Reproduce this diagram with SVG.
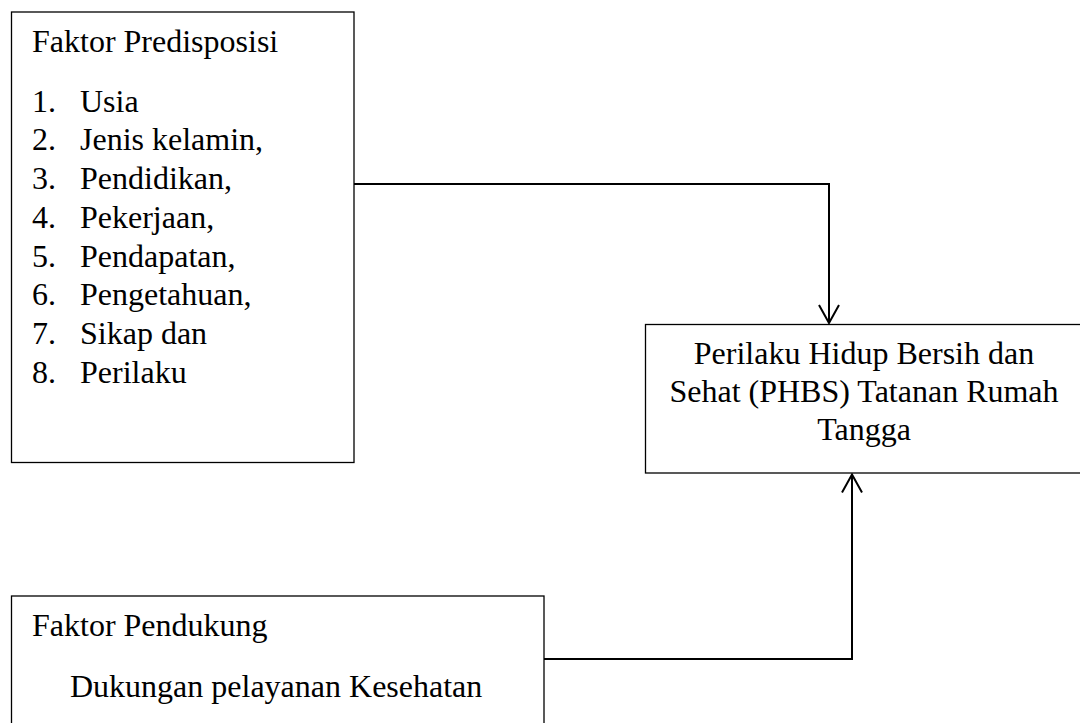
<svg xmlns="http://www.w3.org/2000/svg" width="1080" height="723" viewBox="0 0 1080 723">
<style>
.box{fill:#fff;stroke:#000;stroke-width:1.3}
.t{font-family:"Liberation Serif",Tinos,"Noto Serif","DejaVu Serif",serif;font-size:32px;fill:#000}
.c{text-anchor:middle}
.conn{fill:none;stroke:#000;stroke-width:2}
</style>
<defs>
<marker id="arr" markerUnits="userSpaceOnUse" markerWidth="24" markerHeight="24" viewBox="-22 -12 24 24" refX="0" refY="0" orient="auto">
<path d="M-18,-10 L0,0 L-18,10" fill="none" stroke="#000" stroke-width="2"/>
</marker>
</defs>
<rect width="1080" height="723" fill="#fff"/>
<g id="predisposisi">
<rect class="box" x="11.5" y="12" width="342.5" height="450.5"/>
<text class="t" x="32" y="51.5">Faktor Predisposisi</text>
<text class="t" x="32" y="111.5">1.</text><text class="t" x="80" y="111.5">Usia</text>
<text class="t" x="32" y="150">2.</text><text class="t" x="80" y="150">Jenis kelamin,</text>
<text class="t" x="32" y="188.5">3.</text><text class="t" x="80" y="188.5">Pendidikan,</text>
<text class="t" x="32" y="227.5">4.</text><text class="t" x="80" y="227.5">Pekerjaan,</text>
<text class="t" x="32" y="266.5">5.</text><text class="t" x="80" y="266.5">Pendapatan,</text>
<text class="t" x="32" y="305">6.</text><text class="t" x="80" y="305">Pengetahuan,</text>
<text class="t" x="32" y="344">7.</text><text class="t" x="80" y="344">Sikap dan</text>
<text class="t" x="32" y="383">8.</text><text class="t" x="80" y="383">Perilaku</text>
</g>
<g id="phbs">
<rect class="box" x="645.5" y="324.5" width="437" height="148.5"/>
<text class="t c" x="864" y="364">Perilaku Hidup Bersih dan</text>
<text class="t c" x="864" y="402">Sehat (PHBS) Tatanan Rumah</text>
<text class="t c" x="864" y="440">Tangga</text>
</g>
<g id="pendukung">
<rect class="box" x="11.5" y="596" width="532.5" height="140"/>
<text class="t" x="32" y="635.5">Faktor Pendukung</text>
<text class="t" x="70" y="697">Dukungan pelayanan Kesehatan</text>
</g>
<g id="connectors">
<path class="conn" d="M354,184 H829 V323" marker-end="url(#arr)"/>
<path class="conn" d="M544,659 H852 V474.5" marker-end="url(#arr)"/>
</g>
</svg>
